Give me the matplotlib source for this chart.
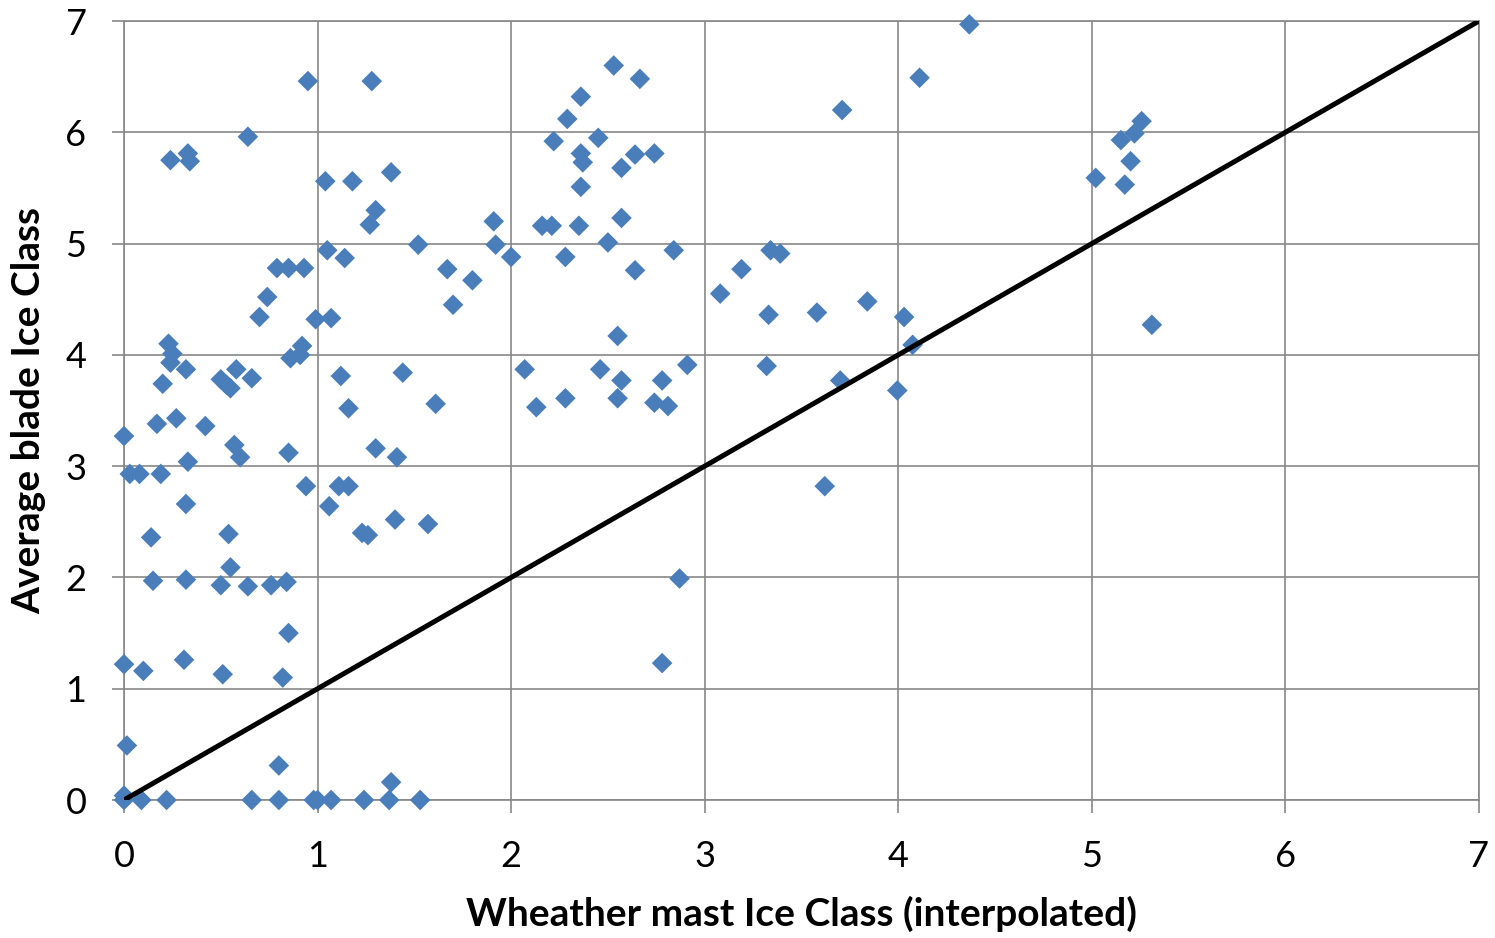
import matplotlib
matplotlib.use("Agg")
import matplotlib.pyplot as plt

plt.rcParams['font.family'] = ['Lato', 'DejaVu Sans']

# Weather mast ice class (interpolated) vs average blade ice class
mast_x = [
    0.00, 0.03, 0.08, 0.00, 0.015, 0.00, 0.00, 0.09, 0.22, 0.10, 0.14, 0.15, 0.17, 0.20, 0.19,
    0.24, 0.33, 0.34, 0.23, 0.25, 0.24, 0.27, 0.32, 0.33, 0.32, 0.32, 0.31, 0.42, 0.50, 0.53,
    0.55, 0.58, 0.57, 0.60, 0.54, 0.55, 0.50, 0.51, 0.64, 0.64, 0.66, 0.70, 0.74, 0.79, 0.85,
    0.93, 0.76, 0.84, 0.82, 0.85, 0.80, 0.66, 0.80, 0.85, 0.86, 0.91, 0.92, 0.94, 0.95, 0.98,
    1.00, 0.99, 1.04, 1.05, 1.07, 1.06, 1.07, 1.12, 1.11, 1.16, 1.16, 1.14, 1.18, 1.23, 1.26,
    1.24, 1.28, 1.27, 1.30, 1.30, 1.38, 1.37, 1.38, 1.40, 1.41, 1.44, 1.52, 1.53, 1.57, 1.61,
    1.67, 1.70, 1.80, 1.91, 1.92, 2.00, 2.07, 2.13, 2.16, 2.21, 2.22, 2.29, 2.28, 2.28, 2.36,
    2.37, 2.36, 2.36, 2.35, 2.45, 2.46, 2.50, 2.53, 2.55, 2.55, 2.57, 2.57, 2.57, 2.64, 2.64,
    2.665, 2.74, 2.74, 2.78, 2.81, 2.78, 2.84, 2.87, 2.91, 3.08, 3.19, 3.32, 3.33, 3.34, 3.39,
    3.58, 3.62, 3.70, 3.71, 3.84, 3.995, 4.03, 4.074, 4.11, 4.367, 5.02, 5.15, 5.17, 5.20, 5.22,
    5.257, 5.31,
]
blade_y = [
    3.27, 2.93, 2.93, 1.22, 0.49, 0.00, 0.04, 0.00, 0.00, 1.16, 2.36, 1.97, 3.38, 3.74, 2.93,
    5.75, 5.81, 5.74, 4.10, 4.01, 3.93, 3.43, 3.87, 3.04, 2.66, 1.98, 1.26, 3.36, 3.78, 3.73,
    3.70, 3.87, 3.19, 3.08, 2.39, 2.09, 1.93, 1.13, 5.96, 1.92, 3.79, 4.34, 4.52, 4.78, 4.78,
    4.78, 1.93, 1.96, 1.10, 1.50, 0.31, 0.00, 0.00, 3.12, 3.97, 4.00, 4.08, 2.82, 6.46, 0.00,
    0.00, 4.32, 5.56, 4.94, 4.33, 2.64, 0.00, 3.81, 2.82, 2.82, 3.52, 4.87, 5.56, 2.40, 2.38,
    0.00, 6.46, 5.17, 5.30, 3.16, 5.64, 0.00, 0.16, 2.52, 3.08, 3.84, 4.99, 0.00, 2.48, 3.56,
    4.77, 4.45, 4.67, 5.20, 4.99, 4.88, 3.87, 3.53, 5.16, 5.16, 5.92, 6.12, 4.88, 3.61, 6.32,
    5.73, 5.81, 5.51, 5.16, 5.95, 3.87, 5.01, 6.60, 4.17, 3.61, 5.68, 5.23, 3.77, 5.80, 4.76,
    6.48, 5.81, 3.57, 3.77, 3.54, 1.23, 4.94, 1.99, 3.91, 4.55, 4.77, 3.90, 4.36, 4.94, 4.91,
    4.38, 2.82, 3.77, 6.20, 4.48, 3.68, 4.34, 4.09, 6.49, 6.97, 5.59, 5.93, 5.53, 5.74, 5.99,
    6.10, 4.27,
]

# 1:1 reference line
ref_x = [0, 7]
ref_y = [0, 7]

ticks = [0, 1, 2, 3, 4, 5, 6, 7]
x_label = "Wheather mast Ice Class (interpolated)"
y_label = "Average blade Ice Class"

grid_col = "#878787"
marker_col = "#4A7EBB"

fig = plt.figure(figsize=(14.95, 9.38), dpi=100)
ax = fig.add_axes([124 / 1495, 1 - 800 / 938, (1479 - 124) / 1495, (800 - 21) / 938])

ax.scatter(mast_x, blade_y, marker='D', s=110, color=marker_col,
           edgecolors='none', zorder=3, clip_on=False)
ax.plot(ref_x, ref_y, color='black', linewidth=3.6, zorder=4, solid_capstyle='butt')

ax.set_xlim(0, 7)
ax.set_ylim(0, 7)
ax.set_xticks(ticks)
ax.set_yticks(ticks)
ax.set_xticklabels([str(t) for t in ticks])
ax.set_yticklabels([str(t) for t in ticks])

ax.grid(True, color=grid_col, linewidth=1.2)
ax.set_axisbelow(True)
for sp in ax.spines.values():
    sp.set_color(grid_col)
    sp.set_linewidth(1.2)

ax.tick_params(axis='both', direction='out', length=9, width=1.2, color=grid_col,
               labelsize=26, labelcolor='black')
ax.tick_params(axis='x', pad=20)
ax.tick_params(axis='y', pad=18)

ax.set_xlabel(x_label, fontsize=28, fontweight='bold', labelpad=16)
ax.set_ylabel(y_label, fontsize=28, fontweight='bold', labelpad=14)

fig.savefig("out.png", dpi=100)
